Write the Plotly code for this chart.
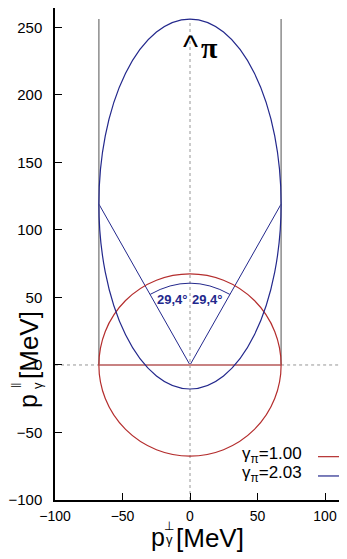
import plotly.graph_objects as go

# ---- data (MeV) ----
gamma_labels = ["1.00", "2.03"]
rest_radius = 67.5                  # circle radius for gamma=1.00
circle_center = [0.0, 0.0]
ellipse_center = [0.0, 119.2]       # gamma=2.03
ellipse_semi = [67.5, 137.0]        # (perp, parallel) semi-axes
cone_x = [-67.5, 0.0, 67.5]
cone_y = [119.2, 0.0, 119.2]
half_angle_label = "29,4°"
arc_end = [29.5, 52.3]              # end point of angle arc (|x|, y)
arc_ctrl_y = 68.9
x_ticks = [-100, -50, 0, 50, 100]
y_ticks = [-100, -50, 0, 50, 100, 150, 200, 250]
x_range = [-100, 116.3]
y_range = [-100, 264.4]

NAVY = "rgb(35,40,140)"
RED = "rgb(180,45,45)"
PINK = "rgb(200,130,130)"
GRAY = "rgb(140,140,140)"
DOT = "rgb(150,150,150)"
FONT = "Liberation Sans, Arial, sans-serif"

fig = go.Figure()

# cone lines from origin to ellipse widest points
fig.add_trace(go.Scatter(x=cone_x, y=cone_y, mode="lines",
                         line=dict(color=NAVY, width=1), hoverinfo="skip",
                         showlegend=False))

shapes = []
top_y = ellipse_center[1] + ellipse_semi[1]
# dotted reference lines
shapes.append(dict(type="line", xref="x", yref="y", x0=0, x1=0,
                   y0=y_range[0], y1=top_y,
                   line=dict(color=DOT, width=1, dash="dot"), layer="below"))
shapes.append(dict(type="line", xref="x", yref="y", x0=x_range[0], x1=-rest_radius,
                   y0=0, y1=0, line=dict(color=DOT, width=1, dash="dot"), layer="below"))
shapes.append(dict(type="line", xref="x", yref="y", x0=rest_radius, x1=x_range[1],
                   y0=0, y1=0, line=dict(color=DOT, width=1, dash="dot"), layer="below"))
# gray vertical lines
for sx in (-rest_radius, rest_radius):
    shapes.append(dict(type="line", xref="x", yref="y", x0=sx, x1=sx,
                       y0=0, y1=top_y, line=dict(color=GRAY, width=1.5)))
# horizontal red diameter
shapes.append(dict(type="line", xref="x", yref="y", x0=-rest_radius, x1=rest_radius,
                   y0=0, y1=0, line=dict(color=PINK, width=2)))
# circle gamma=1
shapes.append(dict(type="circle", xref="x", yref="y",
                   x0=circle_center[0] - rest_radius, x1=circle_center[0] + rest_radius,
                   y0=circle_center[1] - rest_radius, y1=circle_center[1] + rest_radius,
                   line=dict(color=RED, width=1.2)))
# ellipse gamma=2.03
shapes.append(dict(type="circle", xref="x", yref="y",
                   x0=ellipse_center[0] - ellipse_semi[0], x1=ellipse_center[0] + ellipse_semi[0],
                   y0=ellipse_center[1] - ellipse_semi[1], y1=ellipse_center[1] + ellipse_semi[1],
                   line=dict(color=NAVY, width=1.2)))
# angle arc
shapes.append(dict(type="path", xref="x", yref="y",
                   path=f"M {-arc_end[0]},{arc_end[1]} Q 0,{arc_ctrl_y} {arc_end[0]},{arc_end[1]}",
                   line=dict(color=NAVY, width=1)))
# legend line samples
shapes.append(dict(type="line", xref="x", yref="y", x0=94.8, x1=116.3, y0=-67.9, y1=-67.9,
                   line=dict(color=RED, width=1.2)))
shapes.append(dict(type="line", xref="x", yref="y", x0=94.8, x1=116.3, y0=-82.2, y1=-82.2,
                   line=dict(color=NAVY, width=1.2)))

ann = []
# angle labels
for ax_ in (-12.6, 12.6):
    ann.append(dict(x=ax_, y=48.5, xref="x", yref="y", text=f"<b>{half_angle_label}</b>",
                    showarrow=False, font=dict(family=FONT, size=13, color=NAVY)))
# pi marker
ann.append(dict(x=0, y=236, xref="x", yref="y", text="^", showarrow=False,
                font=dict(family=FONT, size=32, color="black")))
ann.append(dict(x=14.5, y=235, xref="x", yref="y", text="<b>π</b>", showarrow=False,
                font=dict(family="Liberation Serif, serif", size=30, color="black")))
# legend texts
ann.append(dict(x=84.8, y=-66.5, xref="x", yref="y", xanchor="right",
                text=f"γ<sub>π</sub>={gamma_labels[0]}", showarrow=False,
                font=dict(family=FONT, size=17, color="black")))
ann.append(dict(x=84.8, y=-80.5, xref="x", yref="y", xanchor="right",
                text=f"γ<sub>π</sub>={gamma_labels[1]}", showarrow=False,
                font=dict(family=FONT, size=17, color="black")))

# axis titles built from pieces (screen pixel positions; plot corner at (55, 500))
def px(xp, yp, text, size, angle=0, xanchor="center"):
    ann.append(dict(xref="paper", yref="paper", x=0, y=0, xshift=xp - 55, yshift=500 - yp,
                    text=text, showarrow=False, textangle=angle, xanchor=xanchor,
                    yanchor="middle", font=dict(family=FONT, size=size, color="black")))

# x title: p_γ^⊥ [MeV]
px(158, 537, "p", 25)
px(169, 526, "⊥", 12)
px(169, 539, "γ", 13)
px(210, 538, "[MeV]", 26)
# y title (rotated): p_γ^|| [MeV]
px(28, 401, "p", 25, angle=-90)
px(15, 386, "||", 10, angle=-90)
px(37, 386, "γ", 13, angle=-90)
px(29, 345, "[MeV]", 26, angle=-90)

# page body has an 8px margin: figure origin sits at screen (8, 8)
fig.update_layout(
    width=339, height=551,
    margin=dict(l=47, r=0, t=0, b=59),
    paper_bgcolor="white", plot_bgcolor="white",
    showlegend=False,
    shapes=shapes, annotations=ann,
    font=dict(family=FONT, size=15, color="black"),
    xaxis=dict(range=x_range, tickvals=x_ticks, ticks="inside", ticklen=7,
               tickwidth=1.3, tickcolor="black", showgrid=False, zeroline=False,
               showline=True, linecolor="black", linewidth=1.5, mirror=False,
               ticklabelstandoff=2, tickfont=dict(size=14), automargin=False),
    yaxis=dict(range=y_range, tickvals=y_ticks, ticks="inside", ticklen=7,
               tickwidth=1.3, tickcolor="black", showgrid=False, zeroline=False,
               showline=True, linecolor="black", linewidth=1.5, mirror=False,
               ticklabelstandoff=8, tickfont=dict(size=15), automargin=False),
)

fig.write_html("out.html")
